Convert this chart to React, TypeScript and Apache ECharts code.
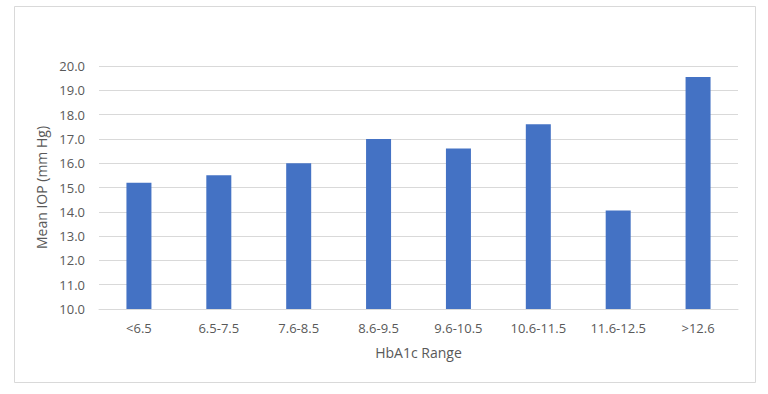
import React, { useEffect, useRef } from "react";
import * as echarts from "echarts";

const categories = ["<6.5", "6.5-7.5", "7.6-8.5", "8.6-9.5", "9.6-10.5", "10.6-11.5", "11.6-12.5", ">12.6"];
const meanIOP = [15.2, 15.5, 16.0, 17.0, 16.6, 17.6, 14.05, 19.55];
const xAxisTitle = "HbA1c Range";
const yAxisTitle = "Mean IOP (mm Hg)";

const FONT = "'Open Sans', 'Noto Sans', sans-serif";
const TEXT = "#595959";

export default function App() {
  const ref = useRef<HTMLDivElement>(null);
  useEffect(() => {
    if (!ref.current) return;
    const chart = echarts.init(ref.current, undefined, { renderer: "svg" });
    chart.setOption({
      animation: false,
      backgroundColor: "#ffffff",
      graphic: [
        {
          type: "rect",
          shape: { x: 14.5, y: 6.5, width: 741, height: 376 },
          style: { fill: "none", stroke: "#d9d9d9", lineWidth: 1 },
          silent: true,
        },
      ],
      grid: { left: 99, right: 30, top: 66, bottom: 85 },
      xAxis: {
        type: "category",
        data: categories,
        name: xAxisTitle,
        nameLocation: "middle",
        nameGap: 36,
        nameTextStyle: { color: TEXT, fontSize: 14, fontFamily: FONT },
        axisLine: { lineStyle: { color: "#d9d9d9" } },
        axisTick: { show: false },
        axisLabel: { color: TEXT, fontSize: 13, fontFamily: FONT, margin: 12, interval: 0 },
      },
      yAxis: {
        type: "value",
        min: 10,
        max: 20,
        interval: 1,
        name: yAxisTitle,
        nameLocation: "middle",
        nameGap: 45,
        nameRotate: 90,
        nameTextStyle: { color: TEXT, fontSize: 14, fontFamily: FONT },
        axisLine: { show: false },
        axisTick: { show: false },
        axisLabel: { color: TEXT, fontSize: 13, fontFamily: FONT, margin: 14, formatter: (v: number) => v.toFixed(1) },
        splitLine: { lineStyle: { color: "#d9d9d9" } },
      },
      series: [
        {
          type: "bar",
          data: meanIOP,
          barWidth: 25,
          itemStyle: { color: "#4472c4" },
        },
      ],
    });
    return () => chart.dispose();
  }, []);
  return (
    <div
      ref={ref}
      style={{ position: "absolute", left: 0, top: 0, width: 768, height: 394 }}
    />
  );
}
